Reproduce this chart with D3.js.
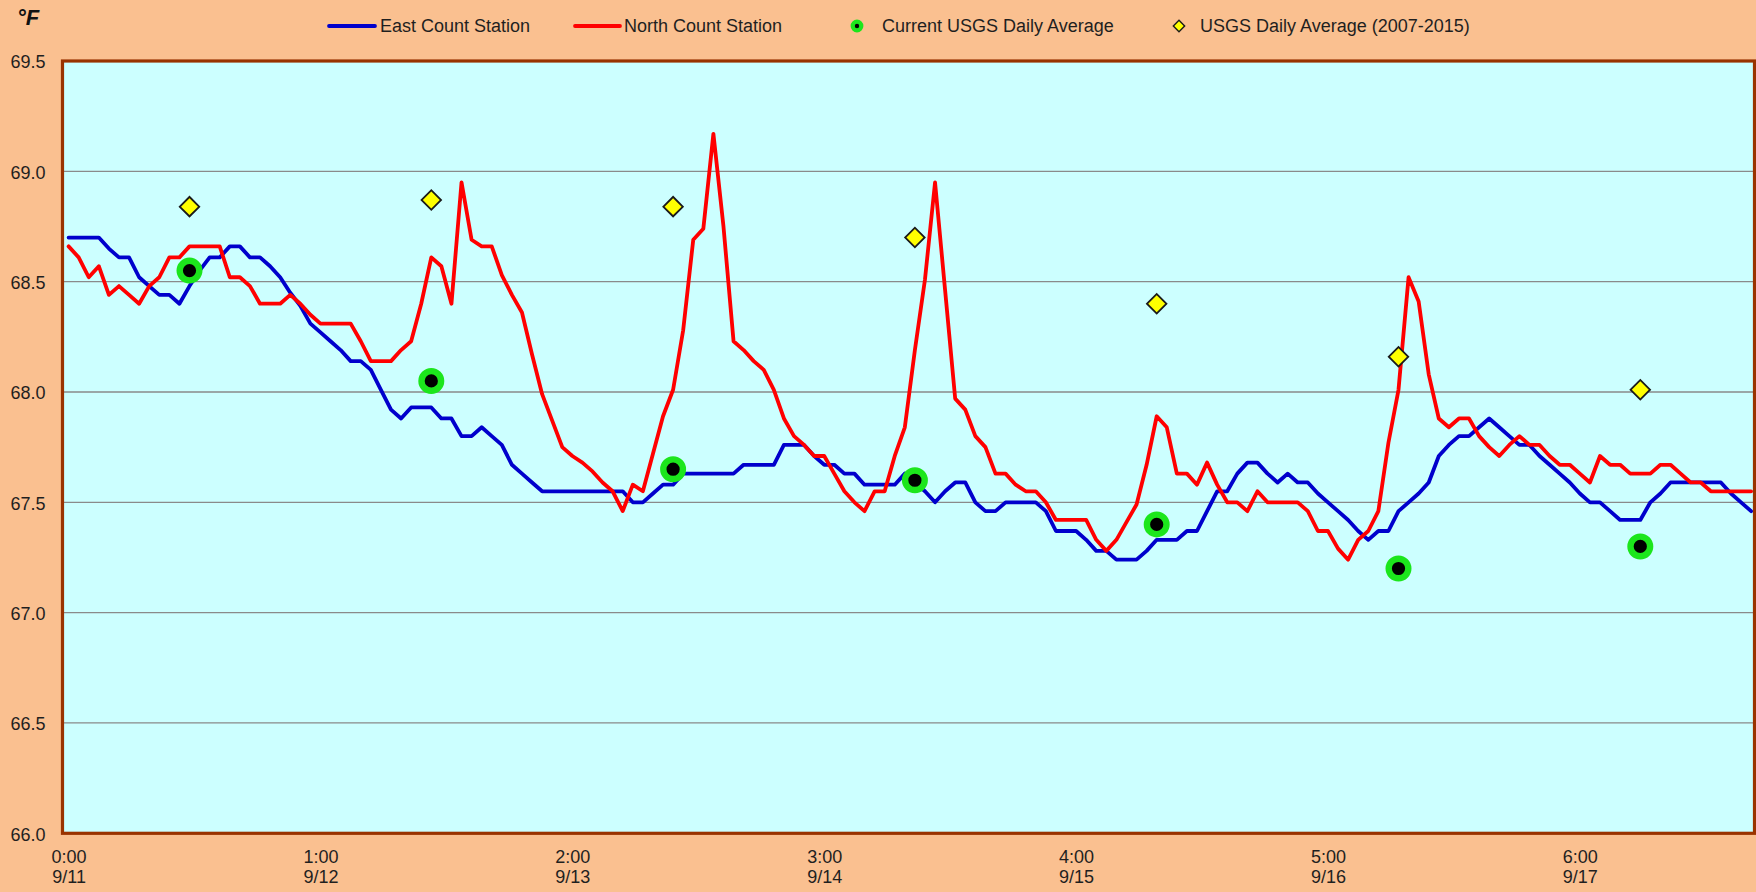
<!DOCTYPE html>
<html><head><meta charset="utf-8">
<script src="https://cdn.jsdelivr.net/npm/d3@7"></script>
<style>
html,body{margin:0;padding:0;background:#FAC090;}
svg{display:block;font-family:"Liberation Sans",Arial,sans-serif;}
</style>
</head><body>
<svg id="chart" width="1756" height="892"></svg>
<script>
// ---- data (hourly, starting 9/11 0:00) ----
const eastStation = [
68.70,68.70,68.70,68.70,68.65,68.61,68.61,68.52,68.48,68.44,68.44,68.40,68.48,68.55,68.61,68.61,68.66,68.66,68.61,68.61,68.57,68.52,68.45,68.39,
68.31,68.27,68.23,68.19,68.14,68.14,68.10,68.01,67.92,67.88,67.93,67.93,67.93,67.88,67.88,67.80,67.80,67.84,67.80,67.76,67.67,67.63,67.59,67.55,
67.55,67.55,67.55,67.55,67.55,67.55,67.55,67.55,67.50,67.50,67.54,67.58,67.58,67.63,67.63,67.63,67.63,67.63,67.63,67.67,67.67,67.67,67.67,67.76,
67.76,67.76,67.71,67.67,67.67,67.63,67.63,67.58,67.58,67.58,67.58,67.63,67.59,67.55,67.50,67.55,67.59,67.59,67.50,67.46,67.46,67.50,67.50,67.50,
67.50,67.46,67.37,67.37,67.37,67.33,67.28,67.28,67.24,67.24,67.24,67.28,67.33,67.33,67.33,67.37,67.37,67.46,67.55,67.55,67.63,67.68,67.68,67.63,
67.59,67.63,67.59,67.59,67.54,67.50,67.46,67.42,67.37,67.33,67.37,67.37,67.46,67.50,67.54,67.59,67.71,67.76,67.80,67.80,67.84,67.88,67.84,67.80,
67.76,67.76,67.71,67.67,67.63,67.59,67.54,67.50,67.50,67.46,67.42,67.42,67.42,67.50,67.54,67.59,67.59,67.59,67.59,67.59,67.59,67.54,67.50,67.46
];
const northStation = [
68.66,68.61,68.52,68.57,68.44,68.48,68.44,68.40,68.48,68.52,68.61,68.61,68.66,68.66,68.66,68.66,68.52,68.52,68.48,68.40,68.40,68.40,68.44,68.40,
68.35,68.31,68.31,68.31,68.31,68.23,68.14,68.14,68.14,68.19,68.23,68.40,68.61,68.57,68.40,68.95,68.69,68.66,68.66,68.53,68.44,68.36,68.17,67.99,
67.87,67.75,67.71,67.68,67.64,67.59,67.55,67.46,67.58,67.55,67.72,67.89,68.01,68.28,68.69,68.74,69.17,68.75,68.23,68.19,68.14,68.10,68.01,67.88,
67.80,67.76,67.71,67.71,67.63,67.55,67.50,67.46,67.55,67.55,67.71,67.84,68.19,68.51,68.95,68.46,67.97,67.92,67.80,67.75,67.63,67.63,67.58,67.55,
67.55,67.50,67.42,67.42,67.42,67.42,67.33,67.28,67.33,67.41,67.49,67.67,67.89,67.84,67.63,67.63,67.58,67.68,67.58,67.50,67.50,67.46,67.55,67.50,
67.50,67.50,67.50,67.46,67.37,67.37,67.29,67.24,67.33,67.37,67.46,67.77,68.01,68.52,68.41,68.08,67.88,67.84,67.88,67.88,67.80,67.75,67.71,67.76,
67.80,67.76,67.76,67.71,67.67,67.67,67.63,67.59,67.71,67.67,67.67,67.63,67.63,67.63,67.67,67.67,67.63,67.59,67.59,67.55,67.55,67.55,67.55,67.55
];
const usgsHourIndex = [12,36,60,84,108,132,156];   // noon of each day
const usgsCurrent   = [68.55,68.05,67.65,67.60,67.40,67.20,67.30];
const usgsHistoric  = [68.84,68.87,68.84,68.70,68.40,68.16,68.01];

const xTickIndex = [0,25,50,75,100,125,150];
const xTickTimes = ["0:00","1:00","2:00","3:00","4:00","5:00","6:00"];
const xTickDates = ["9/11","9/12","9/13","9/14","9/15","9/16","9/17"];
const yTicks = [66.0,66.5,67.0,67.5,68.0,68.5,69.0,69.5];

const seriesNames = ["East Count Station","North Count Station","Current USGS Daily Average","USGS Daily Average (2007-2015)"];

// ---- layout ----
const svg = d3.select("#chart");
const plot = {left: 62.5, top: 61, right: 1754.5, bottom: 833.3};
const textColor = "#1f1f1f";

const hours = d3.range(eastStation.length);
const x = d3.scaleLinear().domain([0, hours.length - 1]).range([68.6, 68.6 + 167 * 10.075]);
const y = d3.scaleLinear().domain([66, 69.5]).range([plot.bottom, plot.top]);

// background
svg.append("rect").attr("width", 1756).attr("height", 892).attr("fill", "#FAC090");
svg.append("rect")
  .attr("x", plot.left).attr("y", plot.top)
  .attr("width", plot.right - plot.left).attr("height", plot.bottom - plot.top)
  .attr("fill", "#CCFFFF");

// gridlines
svg.append("g").selectAll("line").data(yTicks).join("line")
  .attr("x1", plot.left).attr("x2", plot.right)
  .attr("y1", d => y(d)).attr("y2", d => y(d))
  .attr("stroke", "#8a8a8a").attr("stroke-width", 1.3);

// y axis labels
const yAxis = d3.axisLeft(y).tickValues(yTicks).tickFormat(d3.format(".1f")).tickSize(0).tickPadding(0);
const gy = svg.append("g").attr("transform", `translate(45.5,0)`).call(yAxis);
gy.select(".domain").remove();
gy.selectAll("text").attr("fill", textColor).attr("font-size", 18)
  .attr("font-family", '"Liberation Sans",Arial,sans-serif').attr("dy", "0.38em");

// x axis labels
const xAxis = d3.axisBottom(x).tickValues(xTickIndex).tickSize(0).tickFormat(() => "");
const gx = svg.append("g").attr("transform", `translate(0,${plot.bottom})`).call(xAxis);
gx.select(".domain").remove();
gx.selectAll(".tick text").each(function(d, i) {
  const t = d3.select(this).attr("y", 0).attr("dy", null)
    .attr("fill", textColor).attr("font-size", 18)
    .attr("font-family", '"Liberation Sans",Arial,sans-serif');
  t.append("tspan").attr("x", 0).attr("y", 30).text(xTickTimes[i]);
  t.append("tspan").attr("x", 0).attr("y", 50).text(xTickDates[i]);
});

// lines
const line = d3.line().x((d, i) => x(hours[i])).y(d => y(d));
svg.append("path").datum(eastStation).attr("d", line)
  .attr("fill", "none").attr("stroke", "#0000CC").attr("stroke-width", 3.8)
  .attr("stroke-linejoin", "round").attr("stroke-linecap", "round");
svg.append("path").datum(northStation).attr("d", line)
  .attr("fill", "none").attr("stroke", "#FF0000").attr("stroke-width", 3.8)
  .attr("stroke-linejoin", "round").attr("stroke-linecap", "round");

// USGS markers
const diamond = d3.symbol().type(d3.symbolSquare).size(190);
svg.append("g").selectAll("path").data(usgsHistoric).join("path")
  .attr("d", diamond)
  .attr("transform", (d, i) => `translate(${x(usgsHourIndex[i])},${y(d)}) rotate(45)`)
  .attr("fill", "#FFFF00").attr("stroke", "#1a1a1a").attr("stroke-width", 1.8);
svg.append("g").selectAll("circle").data(usgsCurrent).join("circle")
  .attr("cx", (d, i) => x(usgsHourIndex[i])).attr("cy", d => y(d))
  .attr("r", 9.8).attr("fill", "#000").attr("stroke", "#1CE61C").attr("stroke-width", 6.4);

// plot border
svg.append("rect")
  .attr("x", plot.left).attr("y", plot.top)
  .attr("width", plot.right - plot.left).attr("height", plot.bottom - plot.top)
  .attr("fill", "none").attr("stroke", "#993300").attr("stroke-width", 3.2);

// unit label
svg.append("text").attr("x", 17).attr("y", 25)
  .attr("font-size", 22).attr("font-weight", "bold").attr("font-style", "italic")
  .attr("fill", "#111").text("°F");

// legend
const legY = 26;
const leg = svg.append("g").attr("font-size", 18).attr("fill", textColor);
leg.append("line").attr("x1", 329).attr("x2", 375).attr("y1", legY).attr("y2", legY)
  .attr("stroke", "#0000CC").attr("stroke-width", 3.8).attr("stroke-linecap", "round");
leg.append("text").attr("x", 380).attr("y", legY).attr("dy", "0.36em").text(seriesNames[0]);
leg.append("line").attr("x1", 575).attr("x2", 620).attr("y1", legY).attr("y2", legY)
  .attr("stroke", "#FF0000").attr("stroke-width", 3.8).attr("stroke-linecap", "round");
leg.append("text").attr("x", 624).attr("y", legY).attr("dy", "0.36em").text(seriesNames[1]);
leg.append("circle").attr("cx", 857).attr("cy", legY).attr("r", 4.3)
  .attr("fill", "#000").attr("stroke", "#1CE61C").attr("stroke-width", 4.2);
leg.append("text").attr("x", 882).attr("y", legY).attr("dy", "0.36em").text(seriesNames[2]);
leg.append("path").attr("d", d3.symbol().type(d3.symbolSquare).size(64))
  .attr("transform", `translate(1179,${legY}) rotate(45)`)
  .attr("fill", "#FFFF00").attr("stroke", "#1a1a1a").attr("stroke-width", 1.4);
leg.append("text").attr("x", 1200).attr("y", legY).attr("dy", "0.36em").text(seriesNames[3]);
</script>
</body></html>
